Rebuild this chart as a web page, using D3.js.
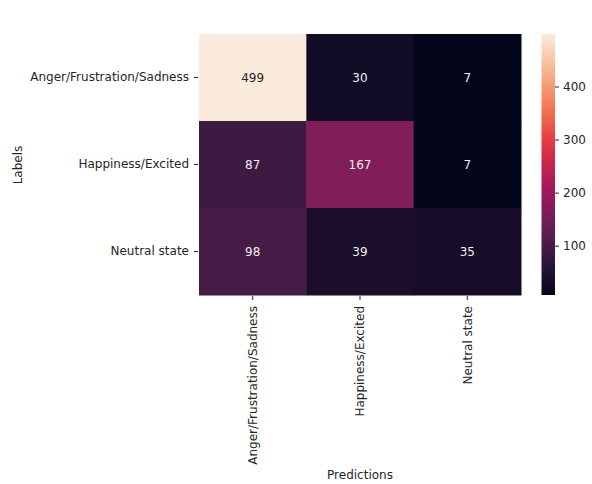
<!DOCTYPE html>
<html>
<head>
<meta charset="utf-8"/>
<script src="https://cdnjs.cloudflare.com/ajax/libs/d3/7.8.5/d3.min.js"></script>
<style>
  body { margin: 0; background: #fff; }
  text { font-family: "DejaVu Sans", sans-serif; }
</style>
</head>
<body>
<div id="chart"></div>
<script>
// confusion matrix values
var rowLabels = ["Anger/Frustration/Sadness", "Happiness/Excited", "Neutral state"];
var colLabels = ["Anger/Frustration/Sadness", "Happiness/Excited", "Neutral state"];
var counts = [
  [499, 30, 7],
  [87, 167, 7],
  [98, 39, 35]
];
var cbarTicks = [100, 200, 300, 400];

// seaborn "rocket" colormap, sampled
var rocketStops = ["#03051a", "#35193e", "#701f57", "#ad1759", "#e13342", "#f37651", "#f6b48f", "#faebdd"];

var W = 592, H = 484;
var ink = "#262626";
var fs = 12;

var svg = d3.select("#chart").append("svg")
    .attr("width", W).attr("height", H);

var flat = counts.flat();
var vmin = d3.min(flat), vmax = d3.max(flat);

var color = d3.scaleLinear()
    .domain(rocketStops.map(function(d, i) { return vmin + (vmax - vmin) * i / (rocketStops.length - 1); }))
    .range(rocketStops)
    .interpolate(d3.interpolateRgb);

var x = d3.scaleBand().domain(colLabels).range([199, 521]);
var y = d3.scaleBand().domain(rowLabels).range([34, 295]);

// cells
var cells = [];
counts.forEach(function(row, i) {
  row.forEach(function(v, j) { cells.push({ r: rowLabels[i], c: colLabels[j], v: v }); });
});

svg.append("g").selectAll("rect").data(cells).enter().append("rect")
    .attr("x", function(d) { return x(d.c); })
    .attr("y", function(d) { return y(d.r); })
    .attr("width", x.bandwidth() + 0.5)
    .attr("height", y.bandwidth() + 0.5)
    .attr("fill", function(d) { return color(d.v); });

svg.append("g").selectAll("text").data(cells).enter().append("text")
    .attr("x", function(d) { return x(d.c) + x.bandwidth() / 2; })
    .attr("y", function(d) { return y(d.r) + y.bandwidth() / 2; })
    .attr("text-anchor", "middle")
    .attr("dominant-baseline", "central")
    .attr("font-size", fs)
    .attr("fill", function(d) {
      var c = d3.rgb(color(d.v));
      var lum = 0.2126 * c.r + 0.7152 * c.g + 0.0722 * c.b;
      return lum > 102 ? ink : "#eeeeee";
    })
    .text(function(d) { return d.v; });

// y axis
var yAxis = svg.append("g")
    .attr("transform", "translate(198,0)")
    .call(d3.axisLeft(y).tickSize(4).tickPadding(5));
yAxis.select(".domain").remove();
yAxis.selectAll("line").attr("stroke", ink);
yAxis.selectAll("text").attr("fill", ink).attr("font-size", fs).attr("font-family", "DejaVu Sans");

// x axis, rotated labels
var xAxis = svg.append("g")
    .attr("transform", "translate(0,296)")
    .call(d3.axisBottom(x).tickSize(4).tickPadding(5));
xAxis.select(".domain").remove();
xAxis.selectAll("line").attr("stroke", ink);
xAxis.selectAll("text")
    .attr("fill", ink).attr("font-size", fs).attr("font-family", "DejaVu Sans")
    .attr("transform", "rotate(-90)")
    .attr("text-anchor", "end")
    .attr("x", -10)
    .attr("y", 0)
    .attr("dy", "0.35em");

// axis titles
svg.append("text")
    .attr("transform", "translate(18,165) rotate(-90)")
    .attr("text-anchor", "middle")
    .attr("dominant-baseline", "central")
    .attr("font-size", fs).attr("fill", ink)
    .text("Labels");

svg.append("text")
    .attr("x", 360).attr("y", 475)
    .attr("text-anchor", "middle")
    .attr("dominant-baseline", "central")
    .attr("font-size", fs).attr("fill", ink)
    .text("Predictions");

// colorbar
var cb = d3.scaleLinear().domain([vmin, vmax]).range([295, 34]);
var grad = svg.append("defs").append("linearGradient")
    .attr("id", "cbar").attr("x1", 0).attr("y1", 1).attr("x2", 0).attr("y2", 0);
d3.range(0, 1.0001, 0.05).forEach(function(t) {
  grad.append("stop").attr("offset", t).attr("stop-color", color(vmin + t * (vmax - vmin)));
});
svg.append("rect")
    .attr("x", 541.5).attr("y", 34)
    .attr("width", 13.5).attr("height", 261)
    .attr("fill", "url(#cbar)");

var cAxis = svg.append("g")
    .attr("transform", "translate(555,0)")
    .call(d3.axisRight(cb).tickValues(cbarTicks).tickSize(4).tickPadding(4));
cAxis.select(".domain").remove();
cAxis.selectAll("line").attr("stroke", ink);
cAxis.selectAll("text").attr("fill", ink).attr("font-size", fs).attr("font-family", "DejaVu Sans");
</script>
</body>
</html>
